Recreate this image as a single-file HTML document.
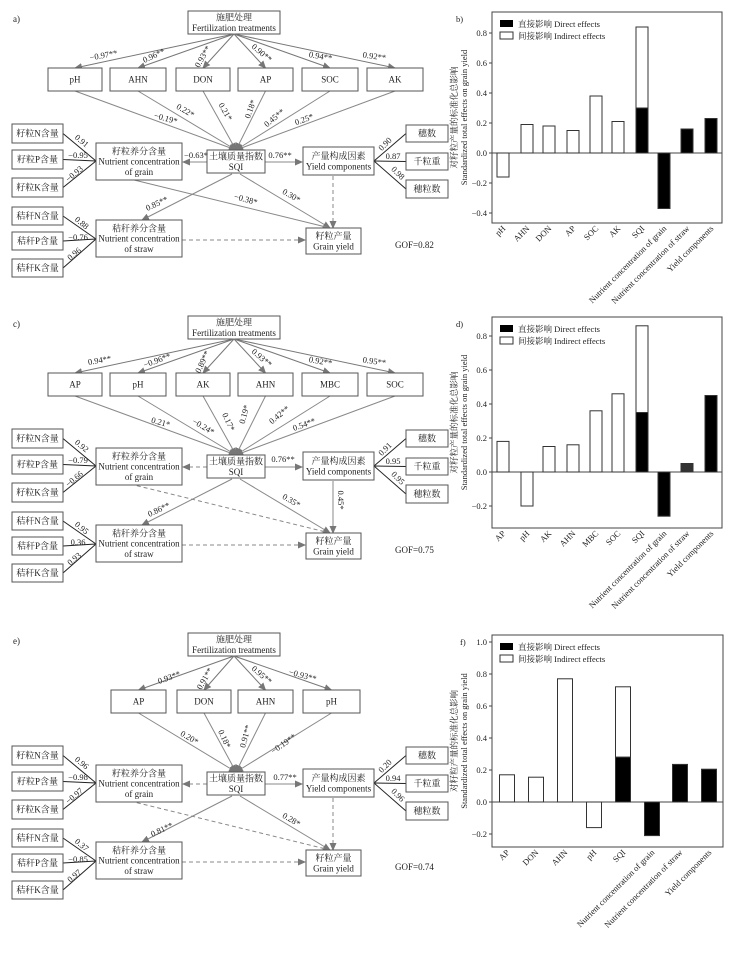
<!DOCTYPE html>
<html><head><meta charset="utf-8"><style>
body{margin:0;background:#fff;}
svg{display:block;font-family:"Liberation Serif","Noto Serif CJK SC","Noto Sans CJK SC",serif;}
</style></head><body>
<svg id="s" xmlns="http://www.w3.org/2000/svg" width="746" height="956" viewBox="0 0 746 956">
<defs><marker id="ah" markerWidth="8" markerHeight="8" refX="7" refY="4" orient="auto" markerUnits="userSpaceOnUse"><path d="M0,0.5 L8,4 L0,7.5z" fill="#777"/></marker></defs>
</svg>
<script>
const S=document.getElementById('s');const NS='http://www.w3.org/2000/svg';
function el(t,a,txt){const e=document.createElementNS(NS,t);for(const k in a)e.setAttribute(k,a[k]);if(txt!==undefined)e.textContent=txt;S.appendChild(e);return e;}
function box(x1,y1,x2,y2,lines,fs){el('rect',{x:x1,y:y1,width:x2-x1,height:y2-y1,fill:'#fff',stroke:'#555','stroke-width':1});
 const cx=(x1+x2)/2,cy=(y1+y2)/2;fs=fs||9;const n=lines.length;const lh=fs*1.15;
 lines.forEach((l,i)=>el('text',{x:cx,y:cy+(i-(n-1)/2)*lh+fs*0.35,'text-anchor':'middle','font-size':fs,fill:'#222'},l));}
function line(x1,y1,x2,y2,o){o=o||{};const a={x1,y1,x2,y2,stroke:o.c||'#888','stroke-width':o.w||1};if(o.dash)a['stroke-dasharray']='4,3';if(o.arrow)a['marker-end']='url(#ah)';el('line',a);}
function lab(x,y,t,r,fs){el('text',{x,y,'font-size':fs||8.5,fill:'#222','text-anchor':'middle',transform:`rotate(${r||0} ${x} ${y})`},t);}
function txt(x,y,t,fs,anc){el('text',{x,y,'font-size':fs||9,fill:'#222','text-anchor':anc||'start'},t);}

function panel(Y,p){
 txt(13,Y+22,p.tag,9);
 box(188,Y+11,280,Y+34,['施肥处理','Fertilization treatments'],9);
 p.top.forEach(b=>{const cx=(b[0]+b[1])/2;line(234,Y+34,cx,Y+68,{arrow:true,c:'#777'});});
 p.top.forEach(b=>{const cx=(b[0]+b[1])/2;line(cx,Y+91,236,Y+150,{arrow:true,c:'#888'});box(b[0],Y+68,b[1],Y+91,[b[2]],9);});
 line(207,Y+162,183,Y+162,{arrow:true,dash:p.gdash,c:'#888'});
 line(265,Y+162,302,Y+162,{arrow:true,c:'#888'});
 line(232,Y+174,142,Y+220,{arrow:true,c:'#888'});
 line(240,Y+174,330,Y+228,{arrow:true,c:'#888'});
 line(130,Y+179,330,Y+228,{dash:p.g2dash,c:'#888'});
 line(182,Y+240,305,Y+240,{arrow:true,dash:true,c:'#888'});
 line(333,Y+176,333,Y+228,{arrow:true,dash:p.ydash,c:'#888'});
 [[124,143],[150,169],[178,197]].forEach(q=>{line(63,Y+(q[0]+q[1])/2,96,Y+161,{c:'#222'});});
 [[207,225],[232,250],[259,277]].forEach(q=>{line(63,Y+(q[0]+q[1])/2,96,Y+239,{c:'#222'});});
 [[125,142],[153,170],[180,198]].forEach(q=>{line(406,Y+(q[0]+q[1])/2,374,Y+161,{c:'#222'});});
 box(12,Y+124,63,Y+143,['籽粒N含量'],9);box(12,Y+150,63,Y+169,['籽粒P含量'],9);box(12,Y+178,63,Y+197,['籽粒K含量'],9);
 box(12,Y+207,63,Y+225,['秸秆N含量'],9);box(12,Y+232,63,Y+250,['秸秆P含量'],9);box(12,Y+259,63,Y+277,['秸秆K含量'],9);
 box(406,Y+125,448,Y+142,['穗数'],9);box(406,Y+153,448,Y+170,['千粒重'],9);box(406,Y+180,448,Y+198,['穗粒数'],9);
 box(96,Y+143,182,Y+180,['籽粒养分含量','Nutrient concentration','of grain'],9);
 box(207,Y+150,265,Y+173,['土壤质量指数','SQI'],9);
 box(303,Y+147,374,Y+175,['产量构成因素','Yield components'],9);
 box(96,Y+220,182,Y+257,['秸秆养分含量','Nutrient concentration','of straw'],9);
 box(306,Y+228,361,Y+254,['籽粒产量','Grain yield'],9);
 txt(395,Y+248,p.gof,9);
 p.labs.forEach(l=>lab(l[0],Y+l[1],l[2],l[3]));
 const L=p.left;lab(80,Y+143,L[0],40);lab(78,Y+158,L[1],0);lab(76,Y+176,L[2],-40);
 lab(80,Y+225,L[3],40);lab(78,Y+240,L[4],0);lab(76,Y+256,L[5],-40);
 const R=p.right;lab(387,Y+146,R[0],-45);lab(393,Y+159,R[1],0);lab(396,Y+175,R[2],45);
}
const topA=[[48,102,'pH'],[110,166,'AHN'],[176,230,'DON'],[238,293,'AP'],[302,358,'SOC'],[367,423,'AK']];
panel(0,{tag:'a)',top:topA,gdash:false,g2dash:false,ydash:true,gof:'GOF=0.82',
 labs:[[104,58,'−0.97**',-10],[155,58,'0.96**',-25],[205,58,'0.93**',-60],[260,55,'0.90**',40],[320,59,'0.94**',10],[374,59,'0.92**',8],
 [184,113,'0.22*',30],[165,121,'−0.19*',15],[223,113,'0.21*',60],[253,110,'0.18*',-70],[276,120,'0.45**',-40],[305,122,'0.25*',-20],
 [196,158,'−0.63*',0],[280,158,'0.76**',0],[158,206,'0.85**',-25],[245,202,'−0.38*',15],[290,198,'0.30*',30]],
 left:['0.91','−0.95','−0.93','0.88','−0.76','0.96'],right:['0.90','0.87','0.98']});
const topC=[[48,102,'AP'],[110,166,'pH'],[176,230,'AK'],[238,293,'AHN'],[302,358,'MBC'],[367,423,'SOC']];
panel(305,{tag:'c)',top:topC,gdash:true,g2dash:true,ydash:false,gof:'GOF=0.75',
 labs:[[100,58,'0.94**',-10],[158,58,'−0.96**',-20],[205,58,'0.89**',-65],[260,55,'0.93**',40],[320,59,'0.92**',10],[374,59,'0.95**',8],
 [160,120,'0.21*',15],[202,124,'−0.24*',30],[226,118,'0.17*',65],[247,110,'0.19*',-75],[281,112,'0.42**',-40],[305,122,'0.54**',-20],
 [283,157,'0.76**',0],[160,207,'0.86**',-25],[290,198,'0.35*',30],[338,195,'0.45*',90]],
 left:['0.92','−0.79','−0.66','0.95','0.36','0.93'],right:['0.91','0.95','0.95']});
const topE=[[111,166,'AP'],[177,231,'DON'],[238,293,'AHN'],[303,360,'pH']];
panel(622,{tag:'e)',top:topE,gdash:true,g2dash:true,ydash:true,gof:'GOF=0.74',
 labs:[[170,58,'0.93**',-20],[207,58,'0.91**',-60],[260,55,'0.95**',40],[302,56,'−0.93**',15],
 [188,118,'0.20*',30],[222,118,'0.18*',65],[248,115,'0.91**',-75],[285,124,'−0.19**',-35],
 [285,158,'0.77**',0],[163,210,'0.81**',-25],[290,200,'0.28*',30]],
 left:['0.96','−0.98','−0.97','0.37','−0.85','0.97'],right:['0.20','0.94','0.96']});

function chart(o){
 const {x1,x2,y1,y2,zero,sc,ticks,bars,w,tag}=o;
 const Y=v=>zero-v*sc;
 el('rect',{x:x1,y:y1,width:x2-x1,height:y2-y1,fill:'none',stroke:'#444','stroke-width':1});
 line(x1,zero,x2,zero,{c:'#444'});
 ticks.forEach(t=>{line(x1-3,Y(t),x1,Y(t),{c:'#444'});txt(x1-5,Y(t)+3,(t<0?'−':'')+Math.abs(t).toFixed(1),8.5,'end');});
 txt(o.tx,y1+10,tag,8.5);
 bars.forEach(b=>{const [cx,v,tot,name,gray]=b;
  if(tot!==null&&tot!==undefined){el('rect',{x:cx-w/2,y:Y(tot),width:w,height:Y(v)-Y(tot),fill:'#fff',stroke:'#333'});}
  const dark=b[5];
  el('rect',{x:cx-w/2,y:Math.min(Y(v),zero),width:w,height:Math.abs(Y(v)-zero),fill:dark?(gray?'#333':'#000'):'#fff',stroke:'#333'});
  el('text',{x:cx+3,y:y2+6,'font-size':8.5,fill:'#222','text-anchor':'end',transform:`rotate(-45 ${cx+3} ${y2+6})`},name);
 });
 el('rect',{x:x1+8,y:y1+8,width:13,height:7,fill:'#000'});
 txt(x1+26,y1+15,'直接影响 Direct effects',8.5);
 el('rect',{x:x1+8,y:y1+20,width:13,height:7,fill:'#fff',stroke:'#333'});
 txt(x1+26,y1+27,'间接影响 Indirect effects',8.5);
 const my=(y1+y2)/2;
 el('text',{x:457,y:my,'font-size':8.5,fill:'#222','text-anchor':'middle',transform:`rotate(-90 457 ${my})`},'对籽粒产量的标准化总影响');
 el('text',{x:467,y:my,'font-size':8.5,fill:'#222','text-anchor':'middle',transform:`rotate(-90 467 ${my})`},'Standardized total effects on grain yield');
}
chart({x1:492,x2:722,y1:12,y2:223,zero:153,sc:150,ticks:[0.8,0.6,0.4,0.2,0,-0.2,-0.4],w:12,tag:'b)',tx:456,
 bars:[[503,-0.16,null,'pH',0,0],[527,0.19,null,'AHN',0,0],[549,0.18,null,'DON',0,0],[573,0.15,null,'AP',0,0],[596,0.38,null,'SOC',0,0],[618,0.21,null,'AK',0,0],[642,0.30,0.84,'SQI',0,1],[664,-0.37,null,'Nutrient concentration of grain',0,1],[687,0.16,null,'Nutrient concentration of straw',0,1],[711,0.23,null,'Yield components',0,1]]});
chart({x1:492,x2:722,y1:317,y2:528,zero:472,sc:170,ticks:[0.8,0.6,0.4,0.2,0,-0.2],w:12,tag:'d)',tx:456,
 bars:[[503,0.18,null,'AP',0,0],[527,-0.20,null,'pH',0,0],[549,0.15,null,'AK',0,0],[573,0.16,null,'AHN',0,0],[596,0.36,null,'MBC',0,0],[618,0.46,null,'SOC',0,0],[642,0.35,0.86,'SQI',0,1],[664,-0.26,null,'Nutrient concentration of grain',0,1],[687,0.05,null,'Nutrient concentration of straw',1,1],[711,0.45,null,'Yield components',0,1]]});
chart({x1:492,x2:723,y1:635,y2:847,zero:802,sc:160,ticks:[1.0,0.8,0.6,0.4,0.2,0,-0.2],w:15,tag:'f)',tx:460,
 bars:[[507,0.17,null,'AP',0,0],[536,0.155,null,'DON',0,0],[565,0.77,null,'AHN',0,0],[594,-0.16,null,'pH',0,0],[623,0.28,0.72,'SQI',0,1],[652,-0.21,null,'Nutrient concentration of grain',0,1],[680,0.235,null,'Nutrient concentration of straw',0,1],[709,0.205,null,'Yield components',0,1]]});
</script>
</body></html>
